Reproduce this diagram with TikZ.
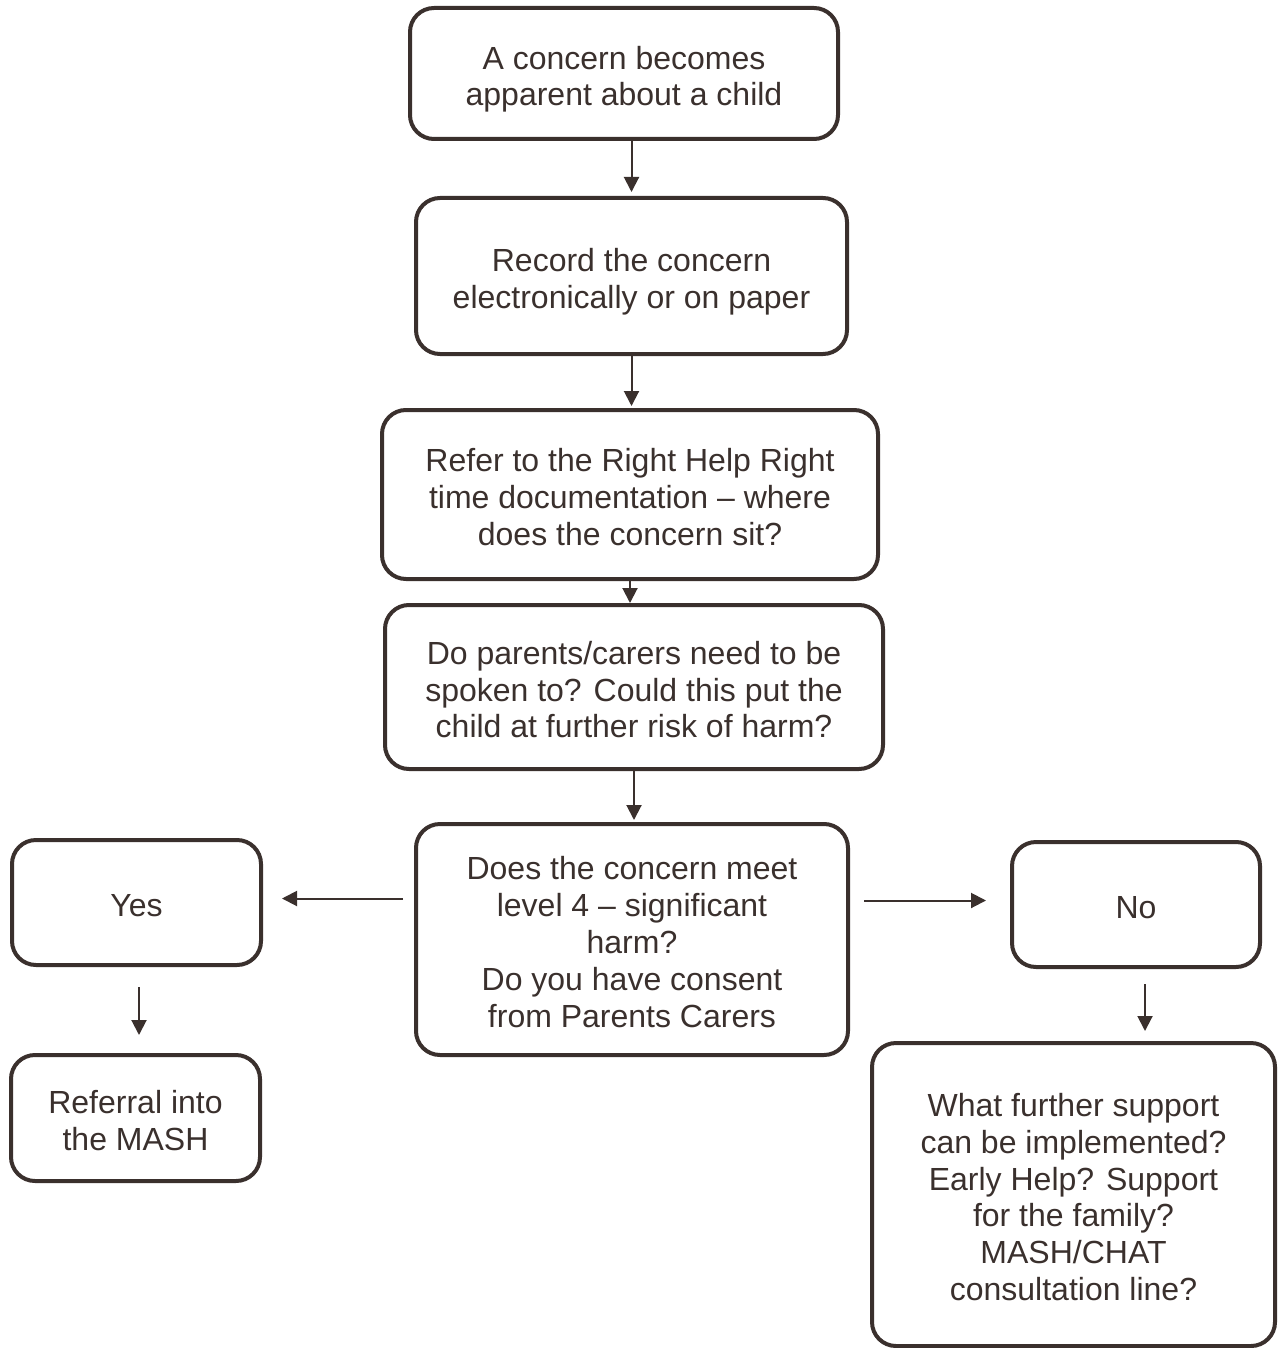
\documentclass[tikz,border=0pt]{standalone}
\usepackage{fontspec}
\setmainfont{Liberation Sans}
\usetikzlibrary{arrows.meta}
\definecolor{ink}{HTML}{3A302D}
\newcommand\fstr{\rule{0pt}{17.5pt}}
\newcommand\lstr{\rule[-3.5pt]{0pt}{3.5pt}}
\begin{document}
\begin{tikzpicture}[x=0.5pt,y=-0.5pt,
  box/.style={draw=ink, line width=2pt, rounded corners=12pt, align=center,
    text=ink, font=\fontsize{16pt}{18.4pt}\selectfont, inner sep=0pt},
  conn/.style={draw=ink, line width=1pt, -{Triangle[length=7.5pt,width=7.5pt]}}]
\useasboundingbox (0,0) rectangle (1283,1348);
\node[box, minimum width=214pt, minimum height=65.5pt] (b1) at (624,73.5) {\fstr A concern becomes\\apparent about a child\lstr};
\node[box, minimum width=215.5pt, minimum height=78pt] (b2) at (631.5,276) {\fstr Record the concern\\electronically or on paper\lstr};
\node[box, minimum width=248pt, minimum height=84.5pt] (b3) at (630,494.5) {\fstr Refer to the Right Help Right\\time documentation -- where\\does the concern sit?\lstr};
\node[box, minimum width=249pt, minimum height=82pt] (b4) at (634,687) {\fstr Do parents/carers need to be\\spoken to? Could this put the\\child at further risk of harm?\lstr};
\node[box, minimum width=216pt, minimum height=115.5pt] (b5) at (632,939.5) {\fstr Does the concern meet\\level 4 -- significant\\harm?\\Do you have consent\\from Parents Carers\lstr};
\node[box, minimum width=124.5pt, minimum height=62.5pt] (yes) at (136.5,902.5) {\fstr Yes\lstr};
\node[box, minimum width=124pt, minimum height=62.5pt] (no) at (1136,904.5) {\fstr No\lstr};
\node[box, minimum width=124.5pt, minimum height=63pt] (mash) at (135.5,1118) {\fstr Referral into\\the MASH\lstr};
\node[box, minimum width=201.5pt, minimum height=151.5pt] (sup) at (1073.5,1194.5) {\fstr What further support\\can be implemented?\\Early Help? Support\\for the family?\\MASH/CHAT\\consultation line?\lstr};
\draw[conn, shorten >=2pt] (b2.north |- b1.south) -- (b2.north);
\draw[conn, shorten >=1pt] (b2.south) -- (b2.south |- b3.north);
\draw[conn] (b3.south) -- (b3.south |- b4.north);
\draw[conn, shorten >=1pt] (b4.south) -- (b4.south |- b5.north);
\draw[conn, shorten <=5.5pt, shorten >=9.5pt] ([yshift=2pt]b5.west |- yes.east) -- ([yshift=2pt]yes.east);
\draw[conn, shorten <=7pt, shorten >=12pt] ([yshift=2pt]b5.east |- no.west) -- ([yshift=2pt]no.west);
\draw[conn, shorten <=10pt, shorten >=9pt] ([xshift=1.25pt]yes.south) -- ([xshift=1.25pt]yes.south |- mash.north);
\draw[conn, shorten <=7.5pt, shorten >=5pt] ([xshift=4.5pt]no.south) -- ([xshift=4.5pt]no.south |- sup.north);
\end{tikzpicture}
\end{document}
